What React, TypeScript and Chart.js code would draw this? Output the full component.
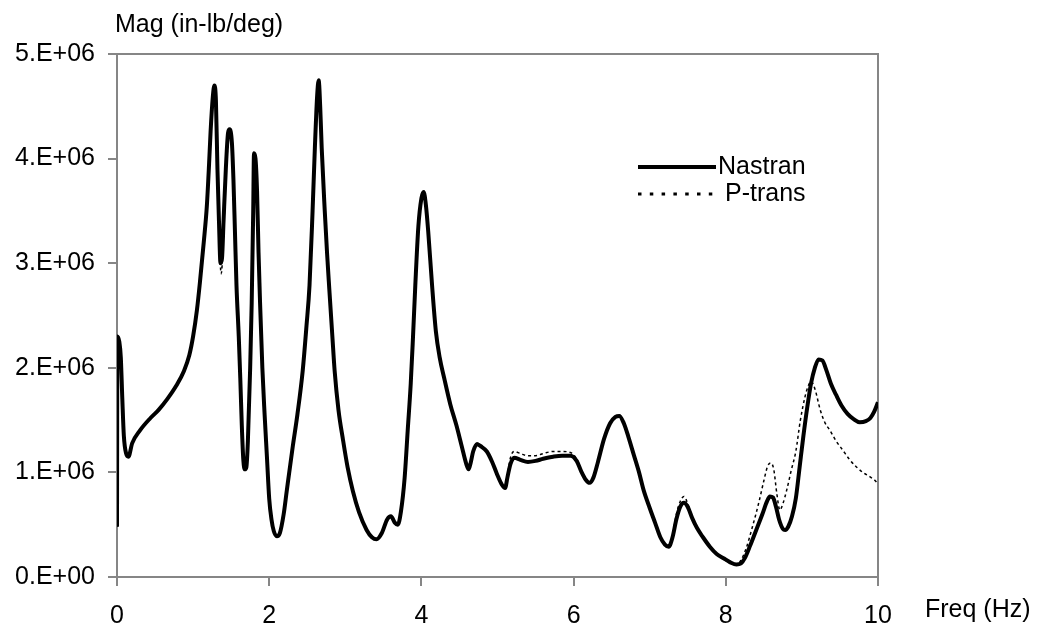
import { useEffect, useRef } from "react";
import { Chart, registerables } from "chart.js";
Chart.register(...registerables);

// Frequency (Hz) and magnitude (millions of in-lb/deg)
const nastranFreq = [
  0.0, 0.005, 0.03, 0.05, 0.07, 0.09, 0.12, 0.15, 0.2, 0.3, 0.44, 0.55, 0.66, 0.78, 0.88, 0.95,
  1.0, 1.05, 1.09, 1.14, 1.18, 1.21, 1.23, 1.26, 1.28, 1.3, 1.32, 1.34, 1.36, 1.38, 1.4, 1.43,
  1.46, 1.48, 1.51, 1.53, 1.55, 1.57, 1.6, 1.62, 1.64, 1.66, 1.68, 1.7, 1.72, 1.75, 1.77, 1.79,
  1.8, 1.82, 1.84, 1.86, 1.88, 1.91, 1.94, 1.97, 2.0, 2.03, 2.06, 2.1, 2.14, 2.19, 2.23, 2.31,
  2.37, 2.44, 2.49, 2.53, 2.57, 2.6, 2.63, 2.65, 2.67, 2.69, 2.73, 2.76, 2.79, 2.83, 2.86, 2.91,
  2.97, 3.03, 3.1, 3.18, 3.28, 3.35, 3.41, 3.48, 3.55, 3.6, 3.65, 3.69, 3.73, 3.78, 3.82, 3.86,
  3.89, 3.92, 3.96, 4.0, 4.03, 4.06, 4.09, 4.14, 4.19, 4.24, 4.3, 4.38, 4.46, 4.53, 4.59, 4.62,
  4.65, 4.68, 4.73, 4.78, 4.86, 4.93, 4.99, 5.06, 5.1, 5.13, 5.17, 5.22, 5.3, 5.4, 5.5, 5.6,
  5.73, 5.85, 5.96, 6.04, 6.1, 6.16, 6.21, 6.26, 6.32, 6.4, 6.48, 6.55, 6.6, 6.66, 6.72, 6.79,
  6.86, 6.92, 7.0, 7.07, 7.14, 7.2, 7.25, 7.3, 7.35, 7.4, 7.45, 7.5, 7.56, 7.62, 7.7, 7.79,
  7.88, 7.97, 8.06, 8.14, 8.2, 8.25, 8.32, 8.4, 8.48, 8.54, 8.58, 8.62, 8.66, 8.7, 8.75, 8.78,
  8.82, 8.87, 8.92, 8.97, 9.02, 9.07, 9.12, 9.17, 9.22, 9.27, 9.32, 9.38, 9.45, 9.52, 9.6, 9.68,
  9.76, 9.84, 9.9, 9.95, 10.0,
];
const nastranMag = [
  0.48, 2.3, 2.25, 2.1, 1.7, 1.35, 1.18, 1.15, 1.28, 1.4, 1.52, 1.6, 1.7, 1.83, 1.97, 2.12,
  2.3, 2.55, 2.82, 3.2, 3.54, 3.95, 4.26, 4.6, 4.7, 4.55, 3.9, 3.4, 3.0, 3.05, 3.4, 3.9,
  4.25, 4.28, 4.15, 3.8, 3.3, 2.79, 2.3, 1.9, 1.45, 1.12, 1.03, 1.05, 1.3, 2.0, 2.62, 3.5,
  4.05, 4.0, 3.7, 3.1, 2.62, 2.0, 1.55, 1.15, 0.75, 0.55, 0.44, 0.39, 0.42, 0.6, 0.82, 1.25,
  1.55, 1.97, 2.4, 2.79, 3.5, 4.1, 4.6, 4.75, 4.5, 4.1, 3.5, 3.1, 2.75, 2.3, 1.97, 1.6,
  1.31, 1.05, 0.82, 0.62, 0.45, 0.38, 0.36, 0.42, 0.55, 0.58, 0.52, 0.5, 0.62, 0.95, 1.4, 1.85,
  2.3, 2.79, 3.35, 3.62, 3.68, 3.55, 3.3, 2.79, 2.35, 2.1, 1.9, 1.65, 1.45, 1.25, 1.08, 1.03,
  1.1, 1.2, 1.27, 1.25, 1.2, 1.1, 0.99, 0.88, 0.85, 0.95, 1.08, 1.14, 1.12, 1.1, 1.11, 1.13,
  1.15, 1.16, 1.16, 1.11, 1.01, 0.93, 0.9, 0.95, 1.1, 1.32, 1.47, 1.53, 1.54, 1.47, 1.34, 1.17,
  1.0, 0.83, 0.66, 0.52, 0.38, 0.31, 0.29, 0.38, 0.55, 0.67, 0.71, 0.67, 0.56, 0.47, 0.38, 0.29,
  0.22, 0.18, 0.14, 0.12, 0.13, 0.18, 0.3, 0.45, 0.6, 0.72, 0.77, 0.76, 0.67, 0.55, 0.46, 0.45,
  0.48, 0.58, 0.75, 1.05, 1.35, 1.62, 1.85, 2.0, 2.08, 2.07, 1.98, 1.85, 1.74, 1.64, 1.56, 1.51,
  1.48, 1.49, 1.52, 1.58, 1.67,
];

const ptransFreq = [
  0.0, 0.005, 0.03, 0.05, 0.07, 0.09, 0.12, 0.15, 0.2, 0.3, 0.44, 0.55, 0.66, 0.78, 0.88, 0.95,
  1.0, 1.05, 1.09, 1.14, 1.18, 1.21, 1.23, 1.26, 1.28, 1.3, 1.32, 1.34, 1.37, 1.39, 1.41, 1.44,
  1.47, 1.49, 1.51, 1.53, 1.55, 1.57, 1.6, 1.62, 1.64, 1.66, 1.68, 1.7, 1.72, 1.75, 1.77, 1.79,
  1.8, 1.82, 1.84, 1.86, 1.88, 1.91, 1.94, 1.97, 2.0, 2.03, 2.06, 2.1, 2.14, 2.19, 2.23, 2.31,
  2.37, 2.44, 2.49, 2.53, 2.57, 2.6, 2.63, 2.65, 2.67, 2.69, 2.73, 2.76, 2.79, 2.83, 2.86, 2.91,
  2.97, 3.03, 3.1, 3.18, 3.28, 3.35, 3.41, 3.48, 3.55, 3.6, 3.65, 3.69, 3.73, 3.78, 3.82, 3.86,
  3.89, 3.92, 3.96, 4.0, 4.03, 4.06, 4.09, 4.14, 4.19, 4.24, 4.3, 4.38, 4.46, 4.53, 4.59, 4.62,
  4.65, 4.68, 4.73, 4.78, 4.86, 4.93, 4.99, 5.06, 5.1, 5.13, 5.17, 5.22, 5.3, 5.4, 5.5, 5.6,
  5.73, 5.85, 5.96, 6.04, 6.1, 6.16, 6.21, 6.26, 6.32, 6.4, 6.48, 6.55, 6.6, 6.66, 6.72, 6.79,
  6.86, 6.92, 7.0, 7.07, 7.14, 7.2, 7.25, 7.3, 7.35, 7.4, 7.45, 7.5, 7.56, 7.62, 7.7, 7.79,
  7.88, 7.97, 8.06, 8.14, 8.2, 8.27, 8.35, 8.43, 8.5, 8.55, 8.59, 8.63, 8.67, 8.71, 8.75, 8.8,
  8.86, 8.92, 8.98, 9.04, 9.08, 9.12, 9.17, 9.24, 9.3, 9.37, 9.45, 9.54, 9.63, 9.72, 9.8, 9.89,
  9.95, 10.0,
];
const ptransMag = [
  0.48, 2.3, 2.25, 2.1, 1.7, 1.35, 1.18, 1.15, 1.28, 1.4, 1.52, 1.6, 1.7, 1.83, 1.97, 2.12,
  2.3, 2.55, 2.82, 3.2, 3.54, 3.95, 4.26, 4.6, 4.68, 4.5, 3.85, 3.3, 2.9, 3.1, 3.45, 3.95,
  4.2, 4.22, 4.12, 3.8, 3.3, 2.79, 2.3, 1.9, 1.45, 1.12, 1.03, 1.05, 1.3, 2.0, 2.62, 3.5,
  4.02, 3.98, 3.7, 3.1, 2.62, 2.0, 1.55, 1.15, 0.75, 0.55, 0.44, 0.39, 0.42, 0.6, 0.82, 1.25,
  1.55, 1.97, 2.4, 2.79, 3.5, 4.1, 4.55, 4.7, 4.48, 4.1, 3.5, 3.1, 2.75, 2.3, 1.97, 1.6,
  1.31, 1.05, 0.82, 0.62, 0.45, 0.38, 0.36, 0.42, 0.55, 0.58, 0.52, 0.5, 0.62, 0.95, 1.4, 1.85,
  2.3, 2.79, 3.35, 3.6, 3.66, 3.55, 3.3, 2.79, 2.35, 2.1, 1.9, 1.65, 1.45, 1.25, 1.08, 1.03,
  1.1, 1.2, 1.28, 1.26, 1.2, 1.1, 0.99, 0.88, 0.85, 0.97, 1.14, 1.2, 1.18, 1.16, 1.16, 1.18,
  1.2, 1.2, 1.19, 1.13, 1.02, 0.94, 0.9, 0.95, 1.1, 1.32, 1.47, 1.53, 1.55, 1.48, 1.34, 1.17,
  1.0, 0.83, 0.66, 0.52, 0.38, 0.31, 0.3, 0.4, 0.6, 0.72, 0.77, 0.7, 0.57, 0.47, 0.38, 0.29,
  0.22, 0.17, 0.13, 0.12, 0.16, 0.28, 0.48, 0.7, 0.92, 1.06, 1.09, 1.03, 0.8, 0.64, 0.7, 0.83,
  1.02, 1.2, 1.5, 1.72, 1.82, 1.87, 1.8, 1.6, 1.48, 1.4, 1.3, 1.21, 1.12, 1.05, 1.0, 0.96,
  0.93, 0.89,
];

const xTickValues = [0, 2, 4, 6, 8, 10];
const yTickLabels = ["0.E+00", "1.E+06", "2.E+06", "3.E+06", "4.E+06", "5.E+06"];
const seriesNames = ["Nastran", "P-trans"];
const xTitle = "Freq (Hz)";
const yTitle = "Mag (in-lb/deg)";

const FONT = "'Liberation Sans', Arial, sans-serif";
const FONT_SIZE = 25;
const GRAY = "#868686";

export default function App() {
  const ref = useRef<HTMLCanvasElement | null>(null);

  useEffect(() => {
    if (!ref.current) return;
    const toPts = (xs: number[], ys: number[]) =>
      xs.map((x, i) => ({ x, y: ys[i] * 1e6 }));

    const overlay = {
      id: "overlay",
      beforeDatasetsDraw(chart: any) {
        const { ctx, chartArea: a } = chart;
        ctx.save();
        ctx.strokeStyle = GRAY;
        ctx.lineWidth = 2;
        ctx.strokeRect(a.left, a.top, a.right - a.left, a.bottom - a.top);
        ctx.restore();
      },
      afterDatasetsDraw(chart: any) {
        const { ctx, chartArea: a } = chart;
        ctx.save();
        ctx.fillStyle = "#000";
        ctx.font = `${FONT_SIZE}px ${FONT}`;
        ctx.textBaseline = "middle";
        ctx.textAlign = "left";
        ctx.fillText(yTitle, a.left - 2, 25);
        ctx.fillText(xTitle, a.right + 47, a.bottom + 33);

        // legend
        const lx0 = a.left + 521;
        const lx1 = a.left + 599;
        const ly1 = a.top + 113;
        const ly2 = a.top + 140;
        ctx.strokeStyle = "#000";
        ctx.lineWidth = 4;
        ctx.beginPath();
        ctx.moveTo(lx0, ly1);
        ctx.lineTo(lx1, ly1);
        ctx.stroke();
        ctx.lineWidth = 3;
        ctx.setLineDash([3.5, 8.3]);
        ctx.beginPath();
        ctx.moveTo(lx0, ly2);
        ctx.lineTo(lx1, ly2);
        ctx.stroke();
        ctx.setLineDash([]);
        ctx.fillText(seriesNames[0], lx1 + 2, ly1);
        ctx.fillText(seriesNames[1], lx1 + 9, ly2);
        ctx.restore();
      },
    };

    const chart = new Chart(ref.current, {
      type: "scatter",
      data: {
        datasets: [
          {
            label: seriesNames[0],
            data: toPts(nastranFreq, nastranMag),
            showLine: true,
            borderColor: "#000",
            borderWidth: 4,
            pointRadius: 0,
            cubicInterpolationMode: "monotone",
            borderJoinStyle: "round",
          },
          {
            label: seriesNames[1],
            data: toPts(ptransFreq, ptransMag),
            showLine: true,
            borderColor: "#000",
            borderWidth: 1.5,
            borderDash: [3, 3],
            pointRadius: 0,
            cubicInterpolationMode: "monotone",
          },
        ],
      },
      options: {
        animation: false,
        responsive: false,
        maintainAspectRatio: false,
        layout: { padding: { left: 0, top: 54, right: 161, bottom: 0 } },
        plugins: { legend: { display: false }, tooltip: { enabled: false } },
        scales: {
          x: {
            type: "linear",
            min: 0,
            max: 10,
            afterBuildTicks: (s: any) => {
              s.ticks = xTickValues.map((v) => ({ value: v }));
            },
            afterFit: (s: any) => {
              s.height = 54;
            },
            ticks: {
              color: "#000",
              font: { family: FONT, size: FONT_SIZE },
              padding: 15,
              maxRotation: 0,
              callback: (v: any) => String(v),
            },
            grid: {
              display: true,
              drawOnChartArea: false,
              drawTicks: true,
              tickLength: 9,
              color: GRAY,
              lineWidth: 2,
            },
            border: { display: true, color: GRAY, width: 2 },
          },
          y: {
            type: "linear",
            min: 0,
            max: 5e6,
            afterBuildTicks: (s: any) => {
              s.ticks = yTickLabels.map((_, i) => ({ value: i * 1e6 }));
            },
            afterFit: (s: any) => {
              s.width = 117;
            },
            ticks: {
              color: "#000",
              font: { family: FONT, size: FONT_SIZE },
              padding: 13,
              callback: (_v: any, i: number) => yTickLabels[i],
            },
            grid: {
              display: true,
              drawOnChartArea: false,
              drawTicks: true,
              tickLength: 9,
              color: GRAY,
              lineWidth: 2,
            },
            border: { display: true, color: GRAY, width: 2 },
          },
        },
      },
      plugins: [overlay],
    } as any);
    return () => chart.destroy();
  }, []);

  return (
    <div style={{ position: "fixed", left: 0, top: 0, width: 1039, height: 631, background: "#fff" }}>
      <canvas ref={ref} width={1039} height={631} style={{ display: "block" }} />
    </div>
  );
}
